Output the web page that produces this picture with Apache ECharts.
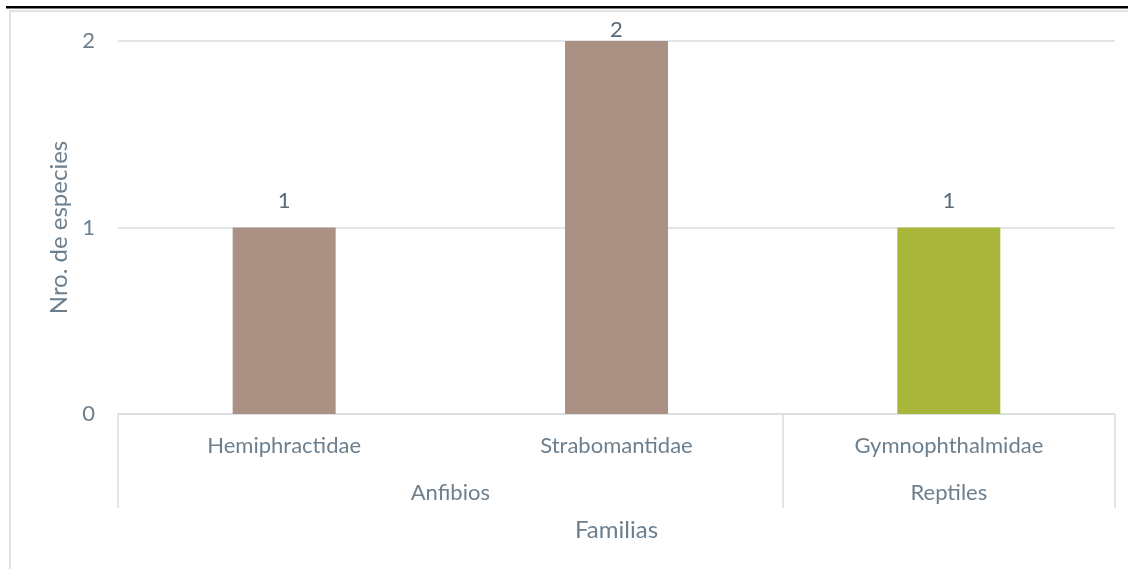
<!DOCTYPE html>
<html>
<head>
<meta charset="utf-8">
<script src="https://cdn.jsdelivr.net/npm/echarts@6/dist/echarts.min.js"></script>
<style>
html,body{margin:0;padding:0;background:#fff;}
#chart{width:1128px;height:569px;}
</style>
</head>
<body>
<div id="chart"></div>
<script>
const families = ['Hemiphractidae', 'Strabomantidae', 'Gymnophthalmidae'];
const groups = ['Anfibios', 'Reptiles'];
const groupSpans = [2, 1];
const counts = [1, 2, 1];
const barColors = ['#AB9084', '#AB9084', '#A8B73A'];
const yTicks = [0, 1, 2];

const FONT = 'Lato';
const TXT = '#6C7F8E';
const GRID = '#D9DEE2';

// group boundaries and centers (in category units)
const bounds = [0];
groupSpans.forEach(s => bounds.push(bounds[bounds.length - 1] + s));
const centers = groupSpans.map((s, i) => bounds[i] + s / 2);

const chart = echarts.init(document.getElementById('chart'));
chart.setOption({
  animation: false,
  backgroundColor: '#fff',
  textStyle: { fontFamily: FONT },
  grid: { left: 118, right: 13, top: 41, bottom: 155 },
  xAxis: [{
    type: 'category',
    data: families,
    axisLine: { show: true, lineStyle: { color: GRID, width: 1.5 } },
    axisTick: { show: false },
    axisLabel: { color: TXT, fontSize: 22, fontFamily: FONT, margin: 21 },
    name: 'Familias',
    nameLocation: 'middle',
    nameGap: 104,
    nameTextStyle: { color: TXT, fontSize: 24, fontFamily: FONT }
  }, {
    type: 'value',
    position: 'bottom',
    min: 0, max: families.length,
    axisLine: { show: false },
    splitLine: { show: false },
    axisTick: { show: true, customValues: bounds, length: 94, inside: false, lineStyle: { color: GRID, width: 1.5 } },
    axisLabel: {
      show: true, customValues: centers, color: TXT, fontSize: 22, fontFamily: FONT, margin: 68,
      showMinLabel: true, showMaxLabel: true,
      formatter: v => { const i = centers.indexOf(v); return i >= 0 ? groups[i] : ''; }
    }
  }],
  yAxis: {
    type: 'value',
    min: 0, max: 2, interval: 1,
    axisLine: { show: false },
    axisTick: { show: false },
    splitLine: { lineStyle: { color: GRID, width: 1.5 } },
    axisLabel: { color: TXT, fontSize: 22, fontFamily: FONT, margin: 23 },
    name: 'Nro. de especies',
    nameLocation: 'middle',
    nameGap: 45,
    nameTextStyle: { color: TXT, fontSize: 24, fontFamily: FONT }
  },
  series: [{
    type: 'bar',
    xAxisIndex: 0,
    data: counts.map((v, i) => ({
      value: v,
      itemStyle: { color: barColors[i] },
      label: { distance: v === Math.max(...counts) ? 0 : 16 }
    })),
    barWidth: 103,
    label: { show: true, position: 'top', color: '#5A6A78', fontSize: 22, fontFamily: FONT }
  }],
  graphic: [
    { type: 'rect', shape: { x: 6, y: 6, width: 1130, height: 2.5 }, style: { fill: '#000' } },
    { type: 'rect', shape: { x: 10, y: 11, width: 1130, height: 570 }, style: { fill: 'none', stroke: '#D9D9D9', lineWidth: 1.5 }, silent: true }
  ]
});
</script>
</body>
</html>
